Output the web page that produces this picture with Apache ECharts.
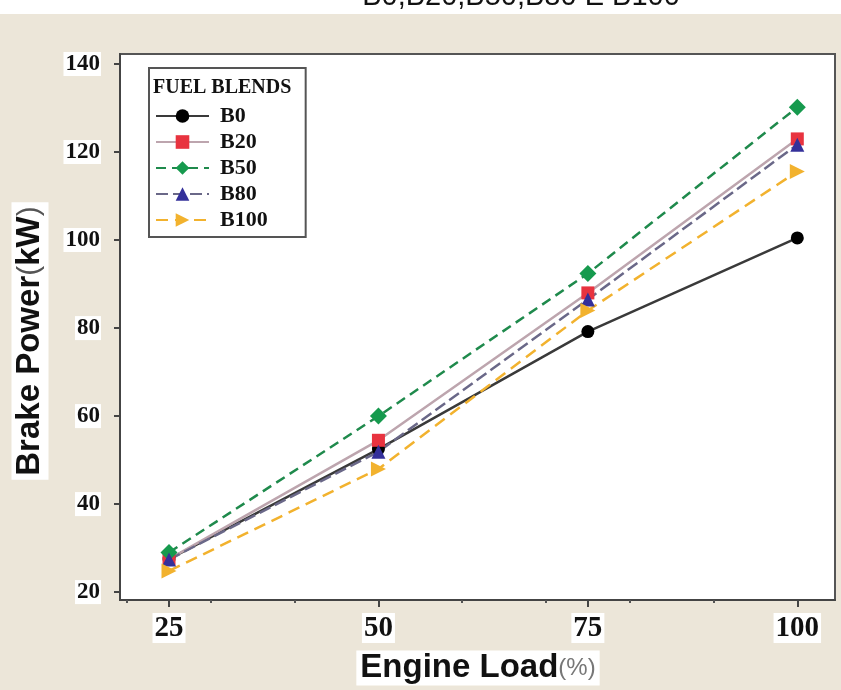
<!DOCTYPE html>
<html>
<head>
<meta charset="utf-8">
<script src="https://cdn.jsdelivr.net/npm/echarts@6/dist/echarts.min.js"></script>
<style>
  html, body { margin: 0; padding: 0; background: #fff; }
  #main { width: 841px; height: 690px; }
</style>
</head>
<body>
<div id="main"></div>
<script>
var chart = echarts.init(document.getElementById('main'));

// engine load (%)
var loads = [25, 50, 75, 100];
// brake power (kW) per blend
var b0 = [27.5, 52.5, 79.2, 100.5];
var b20 = [27.5, 54.5, 88.0, 123.0];
var b50 = [29.0, 60.0, 92.4, 130.2];
var b80 = [27.4, 51.9, 86.5, 121.7];
var b100 = [24.8, 48.0, 84.0, 115.6];

var xLabels = [25, 50, 75, 100];
var xMinor = [20, 30, 40, 60, 70, 80, 90];
var yLabels = [20, 40, 60, 80, 100, 120, 140];

var serif = "'Liberation Serif', 'Times New Roman', serif";
var sans = "'Liberation Sans', Arial, sans-serif";

function pts(vals) {
    return loads.map(function (x, i) { return [x, vals[i]]; });
}

function line(name, vals, color, lineColor, type, symbol, size, rot) {
    return {
        name: name,
        type: 'line',
        data: pts(vals),
        symbol: symbol,
        symbolSize: size,
        symbolRotate: rot || 0,
        itemStyle: { color: color },
        lineStyle: { color: lineColor, width: 2.5, type: type },
        z: 3
    };
}

var option = {
    backgroundColor: '#ece6d9',
    animation: false,
    grid: {
        left: 120, top: 54, right: 6, bottom: 90,
        show: true,
        backgroundColor: '#fff',
        borderColor: '#555',
        borderWidth: 2
    },
    legend: {
        orient: 'vertical',
        left: 149,
        top: 68,
        padding: [37, 38, 6, 6],
        itemGap: 4,
        itemWidth: 53,
        itemHeight: 17,
        borderColor: '#555',
        borderWidth: 2,
        backgroundColor: '#fff',
        textStyle: {
            fontFamily: serif, fontWeight: 'bold', fontSize: 22, color: '#111',
            padding: [0, 0, 0, 6]
        },
        data: ['B0', 'B20', 'B50', 'B80', 'B100']
    },
    xAxis: [{
        type: 'value',
        min: 19.15,
        max: 104.5,
        axisLine: { lineStyle: { color: '#444', width: 2 } },
        axisTick: { customValues: xLabels, length: 7, lineStyle: { color: '#444', width: 2 } },
        axisLabel: {
            customValues: xLabels,
            margin: 13,
            fontFamily: serif, fontWeight: 'bold', fontSize: 29, color: '#111',
            backgroundColor: '#fff', padding: [1, 2, 0, 2]
        },
        splitLine: { show: false }
    }, {
        type: 'value',
        position: 'bottom',
        min: 19.15,
        max: 104.5,
        axisLine: { show: false },
        axisTick: { customValues: xMinor, length: 3, lineStyle: { color: '#555', width: 2 } },
        axisLabel: { show: false },
        splitLine: { show: false }
    }],
    yAxis: {
        type: 'value',
        min: 18.2,
        max: 142.3,
        axisLine: { show: true, lineStyle: { color: '#444', width: 2 } },
        axisTick: { show: true, customValues: yLabels, length: 6, lineStyle: { color: '#444', width: 2 } },
        axisLabel: {
            customValues: yLabels,
            margin: 19,
            fontFamily: serif, fontWeight: 'bold', fontSize: 23, color: '#111',
            backgroundColor: '#fff', padding: [1, 1, 0, 2]
        },
        splitLine: { show: false }
    },
    graphic: [
        {
            type: 'rect',
            shape: { x: 0, y: 0, width: 841, height: 14 },
            style: { fill: '#fff' },
            z: 1
        },
        {
            type: 'text',
            x: 521, y: 11,
            z: 2,
            style: {
                text: 'B0,B20,B50,B80 E B100',
                font: '29px ' + sans,
                fill: '#111',
                textAlign: 'center',
                textVerticalAlign: 'bottom'
            }
        },
        {
            type: 'text',
            x: 153, y: 88,
            z: 100,
            style: {
                text: 'FUEL BLENDS',
                font: 'bold 20px ' + serif,
                fill: '#111',
                textAlign: 'left',
                textVerticalAlign: 'middle'
            }
        },
        {
            type: 'text',
            x: 30, y: 341,
            rotation: Math.PI / 2,
            z: 100,
            style: {
                text: '{a|Brake Power}{b|(}{a|kW}{b|)}',
                textAlign: 'center',
                textVerticalAlign: 'middle',
                backgroundColor: '#fff',
                padding: [2, 4],
                rich: {
                    a: { font: 'bold 33px ' + sans, fill: '#111' },
                    b: { font: '30px ' + sans, fill: '#555' }
                }
            }
        },
        {
            type: 'text',
            x: 478, y: 668,
            z: 100,
            style: {
                text: '{a|Engine Load}{b|(%)}',
                textAlign: 'center',
                textVerticalAlign: 'middle',
                backgroundColor: '#fff',
                padding: [1, 4],
                rich: {
                    a: { font: 'bold 33px ' + sans, fill: '#111' },
                    b: { font: '24px ' + sans, fill: '#777' }
                }
            }
        }
    ],
    series: [
        line('B0', b0, '#000', '#3a3a3a', 'solid', 'circle', 13),
        line('B20', b20, '#e8333f', '#bda5ae', 'solid', 'rect', 13),
        line('B50', b50, '#169a4e', '#1f8a4c', [10, 6], 'diamond', 17),
        line('B80', b80, '#34309a', '#6a6888', [12, 5], 'triangle', 14),
        line('B100', b100, '#f2b22e', '#f2b22e', [12, 7], 'triangle', 15, -90)
    ]
};

chart.setOption(option);
</script>
</body>
</html>
